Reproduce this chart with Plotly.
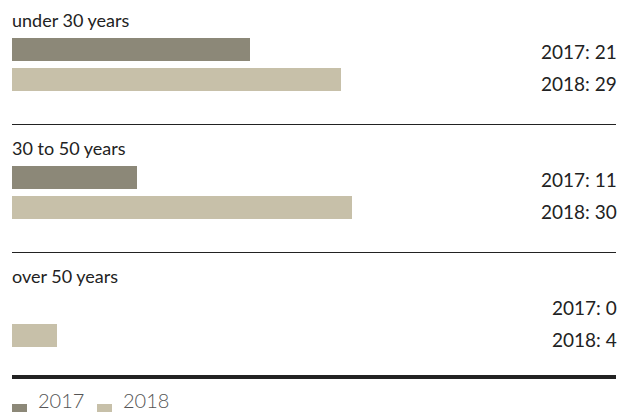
import plotly.graph_objects as go

groups = ["under 30 years", "30 to 50 years", "over 50 years"]
years = ["2017", "2018"]
values_2017 = [21, 11, 0]
values_2018 = [29, 30, 4]
colors = {"2017": "#8c8878", "2018": "#c7c0a9"}

W, H = 619, 413
x_left, x_right = 12, 616
px_per_unit = 11.33
x_max = (x_right - x_left) / px_per_unit

group_step = 128
label_y0 = 20
bar_off = {"2017": 29.5, "2018": 59.5}
label_off = {"2017": 31.5, "2018": 63}
bar_h = 23

fig = go.Figure()
series = {"2017": values_2017, "2018": values_2018}
annotations = []
shapes = []
for yr in years:
    ys = [label_y0 + i * group_step + bar_off[yr] for i in range(len(groups))]
    fig.add_trace(go.Bar(
        x=series[yr], y=ys, orientation="h", base=0, width=bar_h,
        marker=dict(color=colors[yr], line=dict(width=0)),
        showlegend=False, hoverinfo="skip",
    ))
    for i, v in enumerate(series[yr]):
        annotations.append(dict(
            x=1, xref="paper", y=label_y0 + i * group_step + label_off[yr], yref="y",
            text=f"{yr}: {v}", showarrow=False, xanchor="right", yanchor="middle",
            xshift=3,
            font=dict(family="Lato", size=19, color="#222"),
        ))

for i, g in enumerate(groups):
    annotations.append(dict(
        x=0, xref="paper", y=label_y0 + i * group_step, yref="y",
        text=g, showarrow=False, xanchor="left", yanchor="middle", xshift=-2,
        font=dict(family="Lato", size=18, color="#222"),
    ))
    if i < len(groups) - 1:
        sy = label_y0 + i * group_step + 104.5
        shapes.append(dict(type="line", xref="paper", x0=0, x1=1, yref="y", y0=sy, y1=sy,
                           line=dict(color="#222", width=1)))
shapes.append(dict(type="line", xref="paper", x0=0, x1=1, yref="y", y0=377, y1=377,
                   line=dict(color="#222", width=4)))

# legend
leg_x = [12, 97]
for j, yr in enumerate(years):
    lx = leg_x[j]
    shapes.append(dict(type="rect", xref="x", yref="y",
                       x0=(lx - x_left) / px_per_unit, x1=(lx + 15 - x_left) / px_per_unit,
                       y0=404, y1=412, fillcolor=colors[yr], line=dict(width=0)))
    annotations.append(dict(
        x=(lx + 24 - x_left) / px_per_unit, xref="x", y=413, yref="y",
        text=yr, showarrow=False, xanchor="left", yanchor="bottom", yshift=-1,
        font=dict(family="Lato", size=20, color="#555", weight=300),
    ))

fig.update_layout(
    width=W, height=H,
    margin=dict(l=x_left, r=W - x_right, t=0, b=0),
    paper_bgcolor="white", plot_bgcolor="white",
    xaxis=dict(range=[0, x_max], visible=False, fixedrange=True),
    yaxis=dict(range=[H, 0], visible=False, fixedrange=True),
    annotations=annotations, shapes=shapes,
    bargap=0,
)

fig.write_html("out.html")
